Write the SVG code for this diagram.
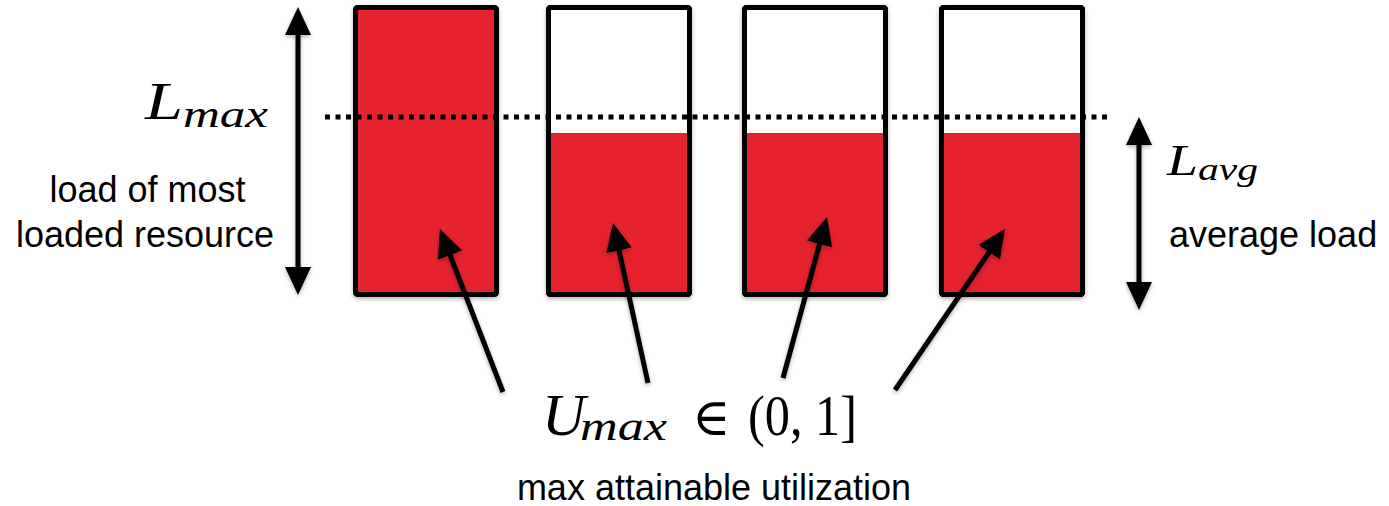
<svg xmlns="http://www.w3.org/2000/svg" width="1389" height="506" viewBox="0 0 1389 506">
<style>
.box{fill:#ffffff;stroke:#000;stroke-width:5;}
.fill{fill:#e6232e;}
.lbl{font-family:"Liberation Sans",Arial,sans-serif;font-size:36px;fill:#000;}
.math{font-family:"Liberation Serif","DejaVu Serif",serif;font-style:italic;fill:#000;}
.mrm{font-family:"Liberation Serif","DejaVu Serif",serif;fill:#000;}
.arr{stroke:#000;stroke-width:5;fill:none;}
</style>
<defs>
<filter id="sh" x="-20%" y="-20%" width="140%" height="140%">
<feDropShadow dx="0" dy="2" stdDeviation="2" flood-color="#000" flood-opacity="0.3"/>
</filter>
<marker id="ah" markerUnits="userSpaceOnUse" viewBox="0 0 28 26" refX="16" refY="13" markerWidth="28" markerHeight="26" orient="auto-start-reverse">
<path d="M0,0 L28,13 L0,26 z" fill="#000"/>
</marker>
</defs>
<rect width="1389" height="506" fill="#fff"/>

<g id="box1" filter="url(#sh)">
<rect class="box" x="355.5" y="7.5" width="141" height="287" rx="2" style="fill:#e6232e"/>
</g>
<g id="box2" filter="url(#sh)">
<rect class="box" x="548.5" y="7.5" width="141" height="287" rx="2"/>
<rect class="fill" x="551" y="133" width="136" height="159"/>
<rect x="548.5" y="7.5" width="141" height="287" rx="2" fill="none" stroke="#000" stroke-width="5"/>
</g>
<g id="box3" filter="url(#sh)">
<rect class="box" x="744.5" y="7.5" width="141" height="287" rx="2"/>
<rect class="fill" x="747" y="133" width="136" height="159"/>
<rect x="744.5" y="7.5" width="141" height="287" rx="2" fill="none" stroke="#000" stroke-width="5"/>
</g>
<g id="box4" filter="url(#sh)">
<rect class="box" x="941.5" y="7.5" width="141" height="287" rx="2"/>
<rect class="fill" x="944" y="133" width="136" height="159"/>
<rect x="941.5" y="7.5" width="141" height="287" rx="2" fill="none" stroke="#000" stroke-width="5"/>
</g>

<g id="lmax-line">
<line x1="325" y1="117" x2="1110" y2="117" stroke="#000" stroke-width="5" stroke-dasharray="5 5.5"/>
</g>

<g id="connectors" filter="url(#sh)">
<line class="arr" x1="298" y1="19" x2="298" y2="283" marker-start="url(#ah)" marker-end="url(#ah)"/>
<line class="arr" x1="1139" y1="129" x2="1139" y2="298" marker-start="url(#ah)" marker-end="url(#ah)"/>
<line class="arr" x1="503" y1="392" x2="444.3" y2="240.2" marker-end="url(#ah)"/>
<line class="arr" x1="648" y1="383" x2="615.6" y2="234.7" marker-end="url(#ah)"/>
<line class="arr" x1="783" y1="378" x2="823.8" y2="228.6" marker-end="url(#ah)"/>
<line class="arr" x1="895" y1="390" x2="998.2" y2="238.9" marker-end="url(#ah)"/>
</g>

<g id="lmax-label">
<text class="math" x="145" y="119" font-size="52" textLength="38" lengthAdjust="spacingAndGlyphs">L</text>
<text class="math" x="183" y="127" font-size="38" textLength="85" lengthAdjust="spacingAndGlyphs">max</text>
<text class="lbl" x="147.5" y="202" text-anchor="middle">load of most</text>
<text class="lbl" x="145" y="247" text-anchor="middle">loaded resource</text>
</g>

<g id="lavg-label">
<text class="math" x="1167" y="175" font-size="45" textLength="31" lengthAdjust="spacingAndGlyphs">L</text>
<text class="math" x="1198" y="180" font-size="32" textLength="60" lengthAdjust="spacingAndGlyphs">avg</text>
<text class="lbl" x="1169" y="247">average load</text>
</g>

<g id="umax-label">
<text class="math" x="542" y="435" font-size="60">U</text>
<text class="math" x="580" y="440" font-size="42" textLength="87" lengthAdjust="spacingAndGlyphs">max</text>
<text class="mrm" x="692" y="435" font-size="52">∈</text>
<text class="mrm" x="748" y="435" font-size="58" textLength="109" lengthAdjust="spacingAndGlyphs">(0, 1]</text>
<text class="lbl" x="714" y="500" text-anchor="middle">max attainable utilization</text>
</g>
</svg>
